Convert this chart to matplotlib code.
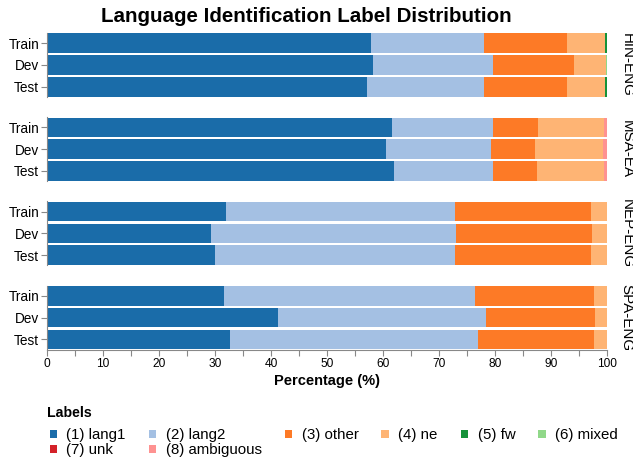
import matplotlib
matplotlib.use("Agg")
import matplotlib.pyplot as plt
from matplotlib.patches import Patch
from matplotlib.ticker import MultipleLocator

plt.rcParams['font.family'] = ['Liberation Sans', 'DejaVu Sans']

# ---- data (percent of tokens per label) ----
datasets = ["HIN-ENG", "MSA-EA", "NEP-ENG", "SPA-ENG"]
splits = ["Train", "Dev", "Test"]
label_names = ["(1) lang1", "(2) lang2", "(3) other", "(4) ne",
               "(5) fw", "(6) mixed", "(7) unk", "(8) ambiguous"]
colors = ["#1a6ca9", "#a4c0e3", "#fd7a26", "#feb474",
          "#16923a", "#90d889", "#d42129", "#fe9291"]

# rows = datasets, cols = Train / Dev / Test
lang1 = [[57.85, 58.2, 57.2], [61.65, 60.6, 62.0], [32.0, 29.25, 30.0], [31.7, 41.3, 32.75]]
lang2 = [[20.15, 21.5, 20.8], [17.9, 18.65, 17.7], [40.8, 43.75, 42.8], [44.75, 37.1, 44.15]]
other = [[14.9, 14.4, 14.9], [8.15, 7.8, 7.7], [24.3, 24.25, 24.3], [21.25, 19.4, 20.8]]
ne = [[6.7, 5.7, 6.7], [11.8, 12.25, 12.1], [2.9, 2.75, 2.9], [2.2, 2.2, 2.3]]
fw = [[0.4, 0.0, 0.4], [0.0, 0.0, 0.0], [0.0, 0.0, 0.0], [0.0, 0.0, 0.0]]
mixed = [[0.0, 0.2, 0.0], [0.0, 0.0, 0.0], [0.0, 0.0, 0.0], [0.0, 0.0, 0.0]]
unk = [[0.0, 0.0, 0.0], [0.0, 0.0, 0.0], [0.0, 0.0, 0.0], [0.0, 0.0, 0.0]]
ambiguous = [[0.0, 0.0, 0.0], [0.5, 0.7, 0.5], [0.0, 0.0, 0.0], [0.1, 0.0, 0.0]]
series = [lang1, lang2, other, ne, fw, mixed, unk, ambiguous]

W, H = 633, 462
fig = plt.figure(figsize=(W / 100, H / 100), dpi=100)

x0, x1 = 46.7, 607.3
top0, pitch, fh = 33.0, 84.2, 64.0
gray = "#888888"

for d, name in enumerate(datasets):
    top = top0 + d * pitch
    ax = fig.add_axes([x0 / W, 1 - (top + fh) / H, (x1 - x0) / W, fh / H])
    y = list(range(len(splits)))
    left = [0.0] * len(splits)
    for s, col in zip(series, colors):
        vals = s[d]
        ax.barh(y, vals, left=left, height=0.9, color=col, linewidth=0)
        left = [a + b for a, b in zip(left, vals)]
    ax.set_xlim(0, 100)
    ax.set_ylim(2.47, -0.47)
    ax.set_yticks(y)
    ax.set_yticklabels(splits, fontsize=9.8)
    for sp in ["top", "right"]:
        ax.spines[sp].set_visible(False)
    ax.spines["left"].set_color(gray)
    ax.spines["left"].set_linewidth(0.8)
    ax.tick_params(axis="y", length=4, width=0.8, color=gray, pad=1.5)
    ax.text(1.034, 0.5, name, transform=ax.transAxes, rotation=-90,
            ha="center", va="center", fontsize=10.9)
    if d < len(datasets) - 1:
        ax.spines["bottom"].set_visible(False)
        ax.set_xticks([])
    else:
        ax.spines["bottom"].set_color(gray)
        ax.spines["bottom"].set_linewidth(0.8)
        ax.xaxis.set_major_locator(MultipleLocator(10))
        ax.xaxis.set_minor_locator(MultipleLocator(5))
        ax.tick_params(axis="x", which="both", length=4, width=0.8,
                       color=gray, labelsize=8.6, pad=2)
        fig.canvas.draw()
        xt = ax.get_xticklabels()
        xt[0].set_horizontalalignment("left")
        xt[-1].set_horizontalalignment("right")
        ax.set_xlabel("Percentage (%)", fontsize=10.5, fontweight="bold",
                      labelpad=3)

fig.text(306.7 / W, 1 - 17 / H, "Language Identification Label Distribution",
         ha="center", va="center", fontsize=14.8, fontweight="bold")

# legend title + entries in row-major order over 6 columns
fig.text(47.3 / W, 1 - 413 / H, "Labels", ha="left", va="center",
         fontsize=10.2, fontweight="bold")
order = [0, 6, 1, 7, 2, 3, 4, 5]
handles = [Patch(facecolor=colors[i], edgecolor="none") for i in order]
labels = [label_names[i] for i in order]
leg = fig.legend(handles, labels, ncol=6, frameon=False,
                 loc="upper left", bbox_to_anchor=(49.5 / W, 1 - 428.5 / H),
                 fontsize=10.8, handlelength=0.5, handleheight=0.5,
                 handletextpad=0.63, columnspacing=1.53, labelspacing=0.04,
                 borderpad=0, borderaxespad=0)

fig.savefig("out.png", dpi=100)
